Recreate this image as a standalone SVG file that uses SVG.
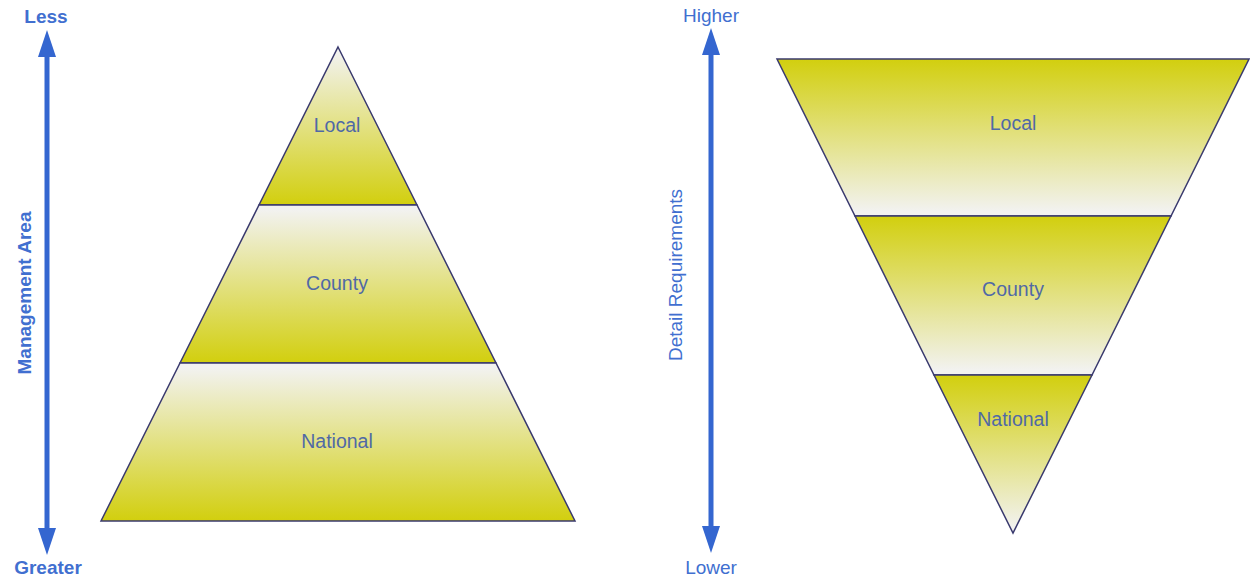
<svg xmlns="http://www.w3.org/2000/svg" width="1250" height="577" viewBox="0 0 1250 577">
<style>
.seg{stroke:#3a3a6e;stroke-width:1.5;stroke-linejoin:miter}
.lbl{font-family:"Liberation Sans",Arial,sans-serif;font-size:19.5px;fill:#5069a6;text-anchor:middle}
.ax{font-family:"Liberation Sans",Arial,sans-serif;font-size:19px;fill:#416fd0;text-anchor:middle}
.axb{font-weight:bold}
.arr{stroke:#3466d0;stroke-width:5;fill:none}
.head{fill:#3466d0}
</style>
<defs>
<linearGradient id="up" x1="0" y1="0" x2="0" y2="1">
<stop offset="0.03" stop-color="#f2f2f0"/>
<stop offset="1" stop-color="#d2cf0e"/>
</linearGradient>
<linearGradient id="down" x1="0" y1="0" x2="0" y2="1">
<stop offset="0" stop-color="#d2cf0e"/>
<stop offset="0.97" stop-color="#f2f2f0"/>
</linearGradient>
</defs>
<g id="connectors">
<line class="arr" x1="47" y1="52" x2="47" y2="532"/>
<polygon class="head" points="47,30 38,57 56,57"/>
<polygon class="head" points="47,555 38,528 56,528"/>
<line class="arr" x1="711" y1="50" x2="711" y2="531"/>
<polygon class="head" points="711,28 702,55 720,55"/>
<polygon class="head" points="711,553 702,526 720,526"/>
</g>
<g id="axis-left">
<text class="ax axb" x="46" y="23">Less</text>
<text class="ax axb" x="48" y="574">Greater</text>
<text class="ax axb" transform="translate(31,293) rotate(-90)">Management Area</text>
</g>
<g id="axis-right">
<text class="ax" x="711" y="22">Higher</text>
<text class="ax" x="711" y="574">Lower</text>
<text class="ax" transform="translate(682,275) rotate(-90)">Detail Requirements</text>
</g>
<g id="pyr-local">
<polygon class="seg" fill="url(#up)" points="338,47 417,205 259,205"/>
<text class="lbl" x="337" y="132">Local</text>
</g>
<g id="pyr-county">
<polygon class="seg" fill="url(#up)" points="259,205 417,205 496,363 180,363"/>
<text class="lbl" x="337" y="290">County</text>
</g>
<g id="pyr-national">
<polygon class="seg" fill="url(#up)" points="180,363 496,363 575,521 101,521"/>
<text class="lbl" x="337" y="448">National</text>
</g>
<g id="inv-local">
<polygon class="seg" fill="url(#down)" points="777,59 1249,59 1171,216 855,216"/>
<text class="lbl" x="1013" y="130">Local</text>
</g>
<g id="inv-county">
<polygon class="seg" fill="url(#down)" points="855,216 1171,216 1092,375 934,375"/>
<text class="lbl" x="1013" y="296">County</text>
</g>
<g id="inv-national">
<polygon class="seg" fill="url(#down)" points="934,375 1092,375 1013,533"/>
<text class="lbl" x="1013" y="426">National</text>
</g>
</svg>
